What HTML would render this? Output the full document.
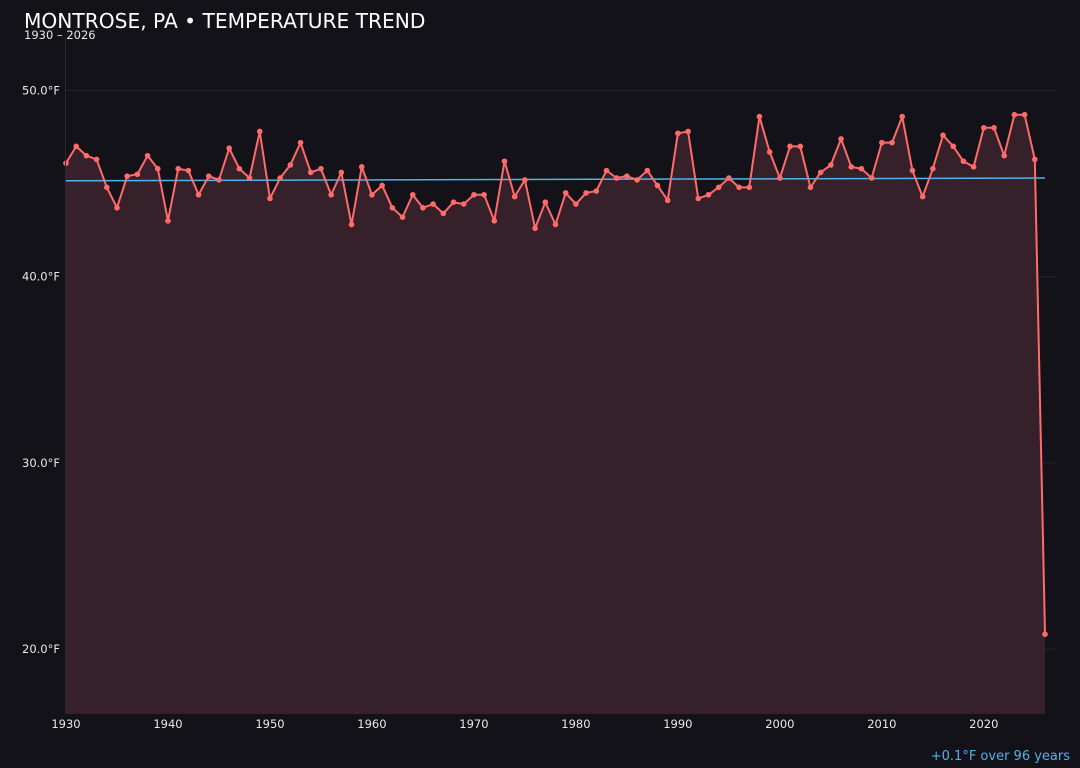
<!DOCTYPE html>
<html><head><meta charset="utf-8"><style>
body{margin:0;background:#131218;width:1080px;height:768px;overflow:hidden;font-family:"DejaVu Sans","Liberation Sans",sans-serif;}
svg{display:block}
</style></head><body>
<svg id="chart" width="1080" height="768">
<rect width="1080" height="768" fill="#131218"/>
<text x="24" y="28" fill="#ffffff" font-size="20.2">MONTROSE, PA • TEMPERATURE TREND</text>
<text x="24" y="39" fill="#e8e8e8" font-size="11.5">1930 – 2026</text>
<g id="grid"></g><g id="marks"></g><g id="axes"></g>
<text x="1070" y="760" text-anchor="end" fill="#4fb3e8" font-size="13">+0.1°F over 96 years</text>
</svg>
<script>
const years=[];for(let y=1930;y<=2026;y++)years.push(y);
const temps=[46.1,47.0,46.5,46.3,44.8,43.7,45.4,45.5,46.5,45.8,43.0,45.8,45.7,44.4,45.4,45.2,46.9,45.8,45.3,47.8,
44.2,45.3,46.0,47.2,45.6,45.8,44.4,45.6,42.8,45.9,44.4,44.9,43.7,43.2,44.4,43.7,43.9,43.4,44.0,43.9,
44.4,44.4,43.0,46.2,44.3,45.2,42.6,44.0,42.8,44.5,43.9,44.5,44.6,45.7,45.3,45.4,45.2,45.7,44.9,44.1,
47.7,47.8,44.2,44.4,44.8,45.3,44.8,44.8,48.6,46.7,45.3,47.0,47.0,44.8,45.6,46.0,47.4,45.9,45.8,45.3,
47.2,47.2,48.6,45.7,44.3,45.8,47.6,47.0,46.2,45.9,48.0,48.0,46.5,48.7,48.7,46.3,20.8];
const trend=[45.15,45.3];
const yTicks=[20,30,40,50];
const xTicks=[1930,1940,1950,1960,1970,1980,1990,2000,2010,2020];
const NS='http://www.w3.org/2000/svg';
const X0=66,X1=1045,Y0=714,Y1=38;
const xs=y=>X0+(y-1930)/(2026-1930)*(X1-X0);
const ys=t=>90.5+(50-t)*18.62;
function mk(tag,attrs,parent){const e=document.createElementNS(NS,tag);for(const k in attrs)e.setAttribute(k,attrs[k]);parent.appendChild(e);return e;}
const grid=document.getElementById('grid'),marks=document.getElementById('marks'),axes=document.getElementById('axes');
yTicks.forEach(t=>{
 const l=mk('line',{x1:66,x2:1056,y1:ys(t),y2:ys(t),stroke:'#2a2228','stroke-width':1},grid);
 
 
 const tx=mk('text',{x:60,y:ys(t)+4,'text-anchor':'end',fill:'#e8e8e8','font-size':11.5},axes);
 tx.textContent=t.toFixed(1)+'°F';
 
 
});
xTicks.forEach(y=>{
 const tx=mk('text',{x:xs(y),y:728,'text-anchor':'middle',fill:'#e8e8e8','font-size':11.5},axes);
 tx.textContent=y;
 
 
});
const al=mk('line',{x1:65.5,x2:65.5,y1:Y1,y2:Y0,stroke:'#2a2a30','stroke-width':1},axes);


let pts=years.map((y,i)=>xs(y)+','+ys(temps[i])).join(' ');
const area=mk('polygon',{points:xs(1930)+','+Y0+' '+pts+' '+xs(2026)+','+Y0,fill:'#36202a'},marks);


const tl=mk('line',{x1:xs(1930),x2:xs(2026),y1:ys(trend[0]),y2:ys(trend[1]),stroke:'#4fb3e8','stroke-width':1.5},marks);


const line=mk('polyline',{points:pts,fill:'none',stroke:'#ff6b6b','stroke-width':2,'stroke-linejoin':'round'},marks);


years.forEach((y,i)=>{
 const c=mk('circle',{cx:xs(y),cy:ys(temps[i]),r:2.8,fill:'#ff6b6b'},marks);
 
 
});
</script>
</body></html>
